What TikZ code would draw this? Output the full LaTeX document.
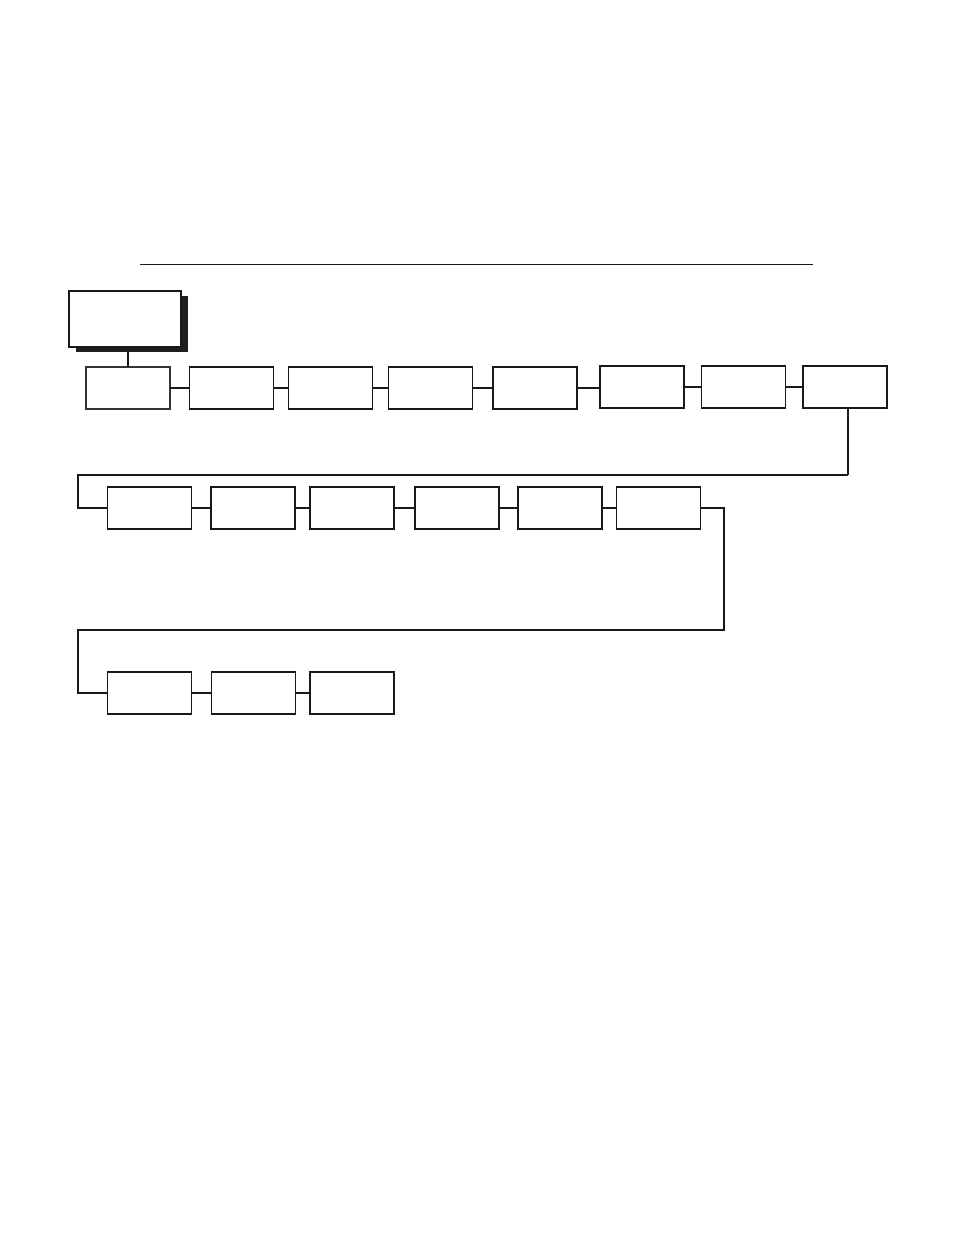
\documentclass[tikz,border=0pt]{standalone}
\usetikzlibrary{shadows}
\begin{document}
\begin{tikzpicture}[x=1pt,y=-1pt,
  box/.style={draw=black!90, line width=1.5pt, rectangle, minimum width=84pt, minimum height=42pt, inner sep=0pt, outer sep=0pt, fill=white},
  mainbox/.style={draw=black!90, line width=2pt, rectangle, minimum width=112pt, minimum height=56pt, inner sep=0pt, outer sep=0pt, fill=white,
    drop shadow={shadow xshift=7pt, shadow yshift=-5pt, fill=black!88, opacity=1}},
  link/.style={draw=black!90, line width=1.4pt}]
\useasboundingbox (0,0) rectangle (954,1235);
% top rule
\coordinate (t1) at (140,264);
\coordinate (t2) at (813,264);
\draw[line width=1pt, black!90] (t1) -- (t2);
% main box
\node[mainbox] (main) at (124.5,319) {};
% row 1
\node[box, draw=black!80] (r1a) at (128,388) {};
\node[box] (r1b) at (231.5,388) {};
\node[box] (r1c) at (330.5,388) {};
\node[box] (r1d) at (430.5,388) {};
\node[box] (r1e) at (535,388) {};
\node[box, line width=2pt] (r1f) at (641.5,387) {};
\node[box] (r1g) at (743.5,387) {};
\node[box] (r1h) at (845,387) {};
% row 2
\node[box] (r2a) at (149.5,508) {};
\node[box] (r2b) at (253,508) {};
\node[box] (r2c) at (352,508) {};
\node[box] (r2d) at (457,508) {};
\node[box] (r2e) at (560,508) {};
\node[box] (r2f) at (658.5,508) {};
% row 3
\node[box] (r3a) at (149.5,693) {};
\node[box] (r3b) at (253.5,693) {};
\node[box] (r3c) at (352,693) {};
% connectors
\draw[link, line width=2pt] (r1a.north) -- (r1a.north |- main.south);
\draw[link] (r1a.east) -- (r1b.west);
\draw[link] (r1b.east) -- (r1c.west);
\draw[link] (r1c.east) -- (r1d.west);
\draw[link] (r1d.east) -- (r1e.west);
\draw[link] (r1e.east) -- (r1f.west |- r1e.east);
\draw[link] (r1f.east) -- (r1g.west);
\draw[link] (r1g.east) -- (r1h.west);
\coordinate (d1) at (848,475);
\coordinate (l1) at (78,475);
\draw[link, line width=2pt] (r1h.south -| d1) -- (d1);
\draw[link] (d1) -- (l1) |- (r2a.west);
\draw[link] (r2a.east) -- (r2b.west);
\draw[link] (r2b.east) -- (r2c.west);
\draw[link] (r2c.east) -- (r2d.west);
\draw[link] (r2d.east) -- (r2e.west);
\draw[link] (r2e.east) -- (r2f.west);
\coordinate (d2) at (724,630);
\coordinate (l2) at (78,630);
\draw[link] (r2f.east) -| (d2) -- (l2) |- (r3a.west);
\draw[link] (r3a.east) -- (r3b.west);
\draw[link] (r3b.east) -- (r3c.west);
\end{tikzpicture}
\end{document}
